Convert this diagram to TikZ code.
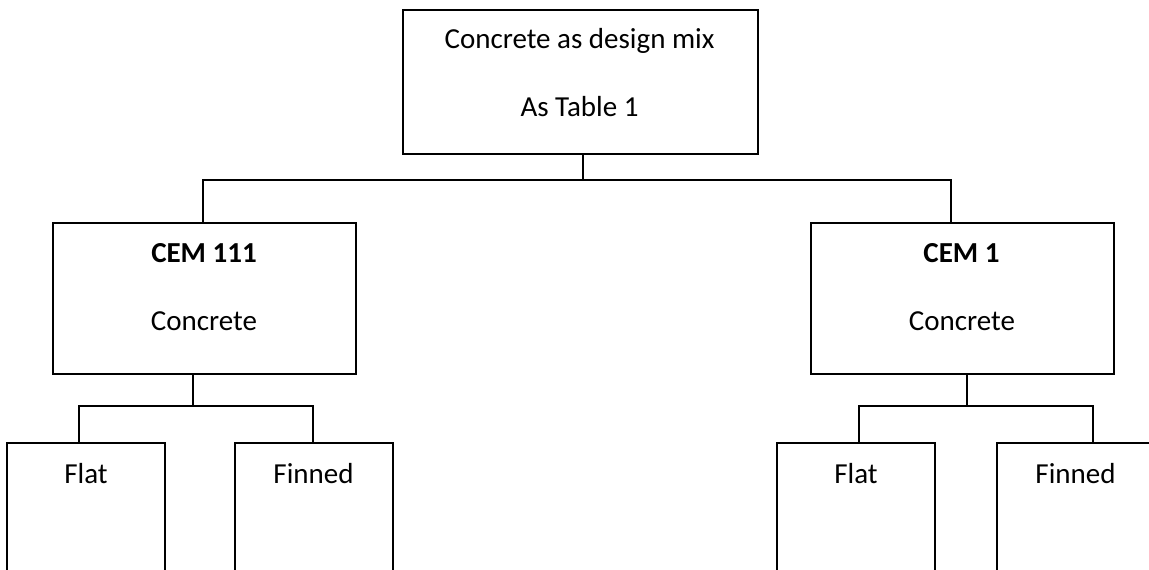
\documentclass[tikz,border=0pt]{standalone}
\usepackage{fontspec}
\setmainfont{Carlito}
\begin{document}
\begin{tikzpicture}[x=1pt,y=-1pt,
  box/.style={draw=black,line width=1.4pt,rectangle,inner sep=0pt},
  lbl/.style={font=\fontsize{29}{34}\selectfont,anchor=base,inner sep=0pt},
  link/.style={draw=black,line width=1.4pt}]
\clip (0,0) rectangle (1149,570);
\fill[white] (0,0) rectangle (1149,570);

% top level
\node[box,minimum width=355pt,minimum height=144pt] (top) at (580.5,82) {};
\node[lbl] (t1) at (579.5,48) {Concrete as design mix};
\node[lbl] (t2) at (579.5,116) {As Table 1};

% cement types
\node[box,minimum width=303pt,minimum height=151pt] (cemA) at (204.5,298.5) {};
\node[lbl] (a1) at (204,262) {\bfseries CEM 111};
\node[lbl] (a2) at (204,330) {Concrete};

\node[box,minimum width=303pt,minimum height=151pt] (cemB) at (962.5,298.5) {};
\node[lbl] (b1) at (961.5,262) {\bfseries CEM 1};
\node[lbl] (b2) at (962,330) {Concrete};

% surface types (boxes run past the lower edge)
\node[box,minimum width=158pt,minimum height=200pt] (flatA) at (86,543) {};
\node[lbl] (fa) at (86,483) {Flat};
\node[box,minimum width=158pt,minimum height=200pt] (finA) at (314,543) {};
\node[lbl] (na) at (313.5,483) {Finned};
\node[box,minimum width=158pt,minimum height=200pt] (flatB) at (856,543) {};
\node[lbl] (fb) at (856,483) {Flat};
\node[box,minimum width=158pt,minimum height=200pt] (finB) at (1076,543) {};
\node[lbl] (nb) at (1075.5,483) {Finned};

% junctions of the tree
\coordinate (j0) at (583,180);
\coordinate (jA) at (193,406);
\coordinate (jB) at (967,406);

\draw[link] (top.south -| j0) -- (j0);
\draw[link] ([xshift=-1.5pt]cemA.north) |- (j0) -| ([xshift=-11.5pt]cemB.north);

\draw[link] (cemA.south -| jA) -- (jA);
\draw[link] ([xshift=-7pt]flatA.north) |- (jA) -| ([xshift=-1pt]finA.north);

\draw[link] (cemB.south -| jB) -- (jB);
\draw[link] ([xshift=3pt]flatB.north) |- (jB) -| ([xshift=17pt]finB.north);
\end{tikzpicture}
\end{document}
